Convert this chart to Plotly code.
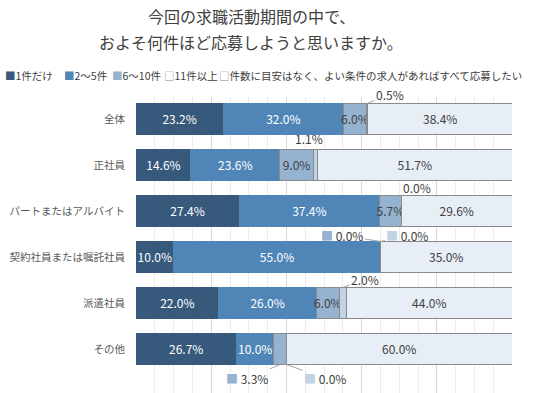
import plotly.graph_objects as go

categories = ['全体', '正社員', 'パートまたはアルバイト', '契約社員または嘱託社員', '派遣社員', 'その他']
series_names = ['1件だけ', '2～5件', '6～10件', '11件以上',
                '件数に目安はなく、よい条件の求人があればすべて応募したい']
v1 = [23.2, 14.6, 27.4, 10.0, 22.0, 26.7]
v2 = [32.0, 23.6, 37.4, 55.0, 26.0, 10.0]
v3 = [6.0, 9.0, 5.7, 0.0, 6.0, 3.3]
v4 = [0.5, 1.1, 0.0, 0.0, 2.0, 0.0]
v5 = [38.4, 51.7, 29.6, 35.0, 44.0, 60.0]
title_lines = ['今回の求職活動期間の中で、', 'およそ何件ほど応募しようと思いますか。']

series = [v1, v2, v3, v4, v5]
colors = ['#36597c', '#4f86b7', '#95b2d1', '#c3d3e6', '#e8eef6']
text_colors = ['#ffffff', '#ffffff', '#404040', '#404040', '#404040']
line_colors = ['#36597c', '#4f86b7', '#8a8a8a', '#8a8a8a', '#8a8a8a']
FONT = 'Noto Sans CJK JP'
BAR_W = 0.674

fig = go.Figure()
for i, (name, vals) in enumerate(zip(series_names, series)):
    txt = [f'{v:.1f}%' if v >= 5 else '' for v in vals]
    fig.add_trace(go.Bar(
        y=categories, x=vals, name=name, orientation='h',
        marker=dict(color=colors[i], line=dict(color=line_colors[i], width=1)),
        width=BAR_W, text=txt, textposition='inside', insidetextanchor='middle',
        textangle=0, insidetextfont=dict(color=text_colors[i], size=12, family=FONT),
        showlegend=False, hoverinfo='skip'))

# outside labels: (series idx, category idx, side, ax, ay, show key)
outside = [
    (3, 0, 'top', 23, -9, False),
    (2, 3, 'top', -38, -6, True),
    (3, 3, 'top', 27, -6, True),
    (3, 2, 'top', 16, -8, False),
    (3, 4, 'top', 22, -8, False),
    (2, 5, 'bottom', -33, 14, True),
    (3, 5, 'bottom', 39, 14, True),
]
annotations = []

def cum_before(si, ci):
    return sum(series[k][ci] for k in range(si))

for si, ci, side, ax, ay, key in outside:
    v = series[si][ci]
    xpos = cum_before(si, ci) + v / 2
    ypos = ci - BAR_W / 2 if side == 'top' else ci + BAR_W / 2
    label = f'{v:.1f}%'
    if key:
        label = f"<span style='color:{colors[si]}'>■</span> " + label
    annotations.append(dict(
        x=xpos, y=ypos, xref='x', yref='y', text=label, showarrow=True,
        arrowhead=0, arrowwidth=1, arrowcolor='#a6a6a6', ax=ax, ay=ay,
        standoff=0, font=dict(size=12, color='#404040', family=FONT)))

# 正社員 11件以上 label above bar
si, ci = 3, 1
annotations.append(dict(
    x=cum_before(si, ci) + series[si][ci] / 2, y=ci - BAR_W / 2, xref='x', yref='y',
    text=f'{series[si][ci]:.1f}%', showarrow=False, yanchor='bottom', xshift=-7, yshift=0,
    font=dict(size=12, color='#404040', family=FONT)))

L, R, T, B = 136, 22, 97, 0
W, H = 534, 393
pw, ph = W - L - R, H - T - B

def px2paper_x(px):
    return (px - L) / pw

def px2paper_y(py):
    return (H - B - py) / ph

# title
for line, py in zip(title_lines, [16, 42]):
    annotations.append(dict(
        x=px2paper_x(251), y=px2paper_y(py), xref='paper', yref='paper',
        text=line, showarrow=False, xanchor='center', yanchor='middle',
        font=dict(size=16, color='#404040', family=FONT)))

# legend
legend_x = [3, 62, 110, 162, 217]
legend_sym = ['■', '■', '■', '□', '□']
for i, name in enumerate(series_names):
    sym_color = colors[i] if legend_sym[i] == '■' else '#8a8a8a'
    annotations.append(dict(
        x=px2paper_x(legend_x[i]), y=px2paper_y(75), xref='paper', yref='paper',
        text=f"<span style='color:{sym_color}'>{legend_sym[i]}</span>{name}",
        showarrow=False, xanchor='left', yanchor='middle',
        font=dict(size=10.5, color='#404040', family=FONT)))

fig.update_layout(
    barmode='stack', width=W, height=H,
    margin=dict(l=L, r=R, t=T, b=B, pad=0, autoexpand=False),
    paper_bgcolor='white', plot_bgcolor='white',
    font=dict(family=FONT, color='#404040'),
    uniformtext=dict(minsize=12, mode='show'),
    annotations=annotations,
    xaxis=dict(range=[0, 100], dtick=20, showticklabels=False, showgrid=True,
               gridcolor='#d9d9d9', gridwidth=1, zeroline=False, fixedrange=True,
               minor=dict(dtick=5, showgrid=True, gridcolor='#ececec', gridwidth=1)),
    yaxis=dict(range=[5.957, -0.478], showgrid=False, zeroline=False,
               ticks='', ticklabelstandoff=10, fixedrange=True,
               tickfont=dict(size=10.5, color='#595959', family=FONT)),
)

fig.write_html('out.html', config={'displayModeBar': False, 'staticPlot': True},
               post_script="document.body.style.margin='0';")
